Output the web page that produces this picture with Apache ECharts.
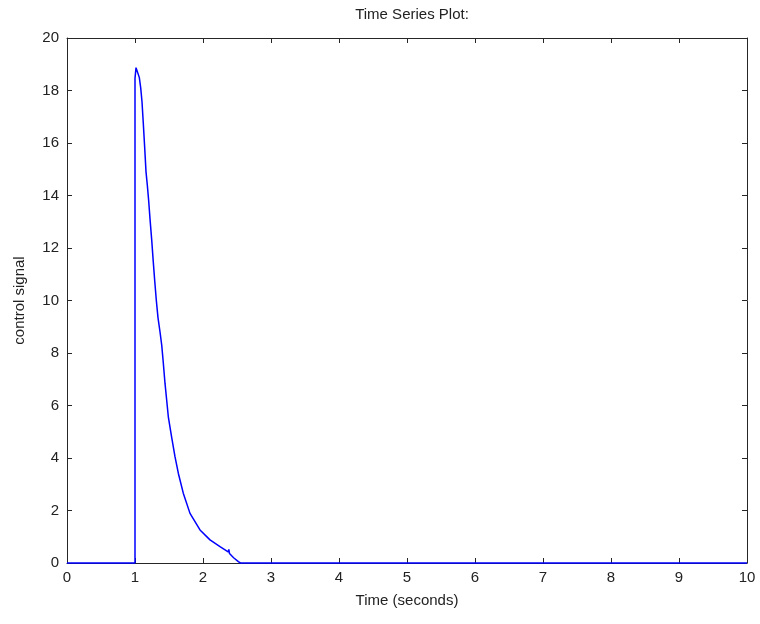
<!DOCTYPE html>
<html><head><meta charset="utf-8">
<script src="https://cdn.jsdelivr.net/npm/echarts@6/dist/echarts.min.js"></script>
<style>html,body{margin:0;padding:0;background:#fff}#c{width:760px;height:624px}</style>
</head><body><div id="c"></div>
<script>
var titleText = 'Time Series Plot:';
var xLabel = 'Time (seconds)';
var yLabel = 'control signal';
var timeValues = [0, 1.0, 1.0, 1.015, 1.04, 1.063, 1.084, 1.103, 1.122, 1.143, 1.162, 1.181, 1.201, 1.221, 1.246, 1.268, 1.29, 1.313, 1.338, 1.368, 1.393, 1.412, 1.441, 1.466, 1.49, 1.54, 1.588, 1.637, 1.71, 1.809, 1.956, 2.103, 2.25, 2.37, 2.38, 2.39, 2.45, 2.52, 2.55, 10];
var signalValues = [0, 0, 18.46, 18.87, 18.8, 18.5, 18.1, 17.57, 16.75, 15.8, 14.9, 14.4, 13.8, 13.1, 12.3, 11.5, 10.75, 10.02, 9.35, 8.8, 8.3, 7.75, 6.85, 6.2, 5.57, 4.78, 4.05, 3.42, 2.66, 1.89, 1.26, 0.88, 0.62, 0.42, 0.52, 0.36, 0.2, 0.05, 0, 0];
var xTicks = [0,1,2,3,4,5,6,7,8,9,10];
var yTicks = [0,2,4,6,8,10,12,14,16,18,20];

var pts = timeValues.map(function(t,i){return [t, signalValues[i]];});
var font = 'Liberation Sans, Arial, sans-serif';
var axColor = '#262626';
var chart = echarts.init(document.getElementById('c'));
function baseX(pos, show){
  return {type:'value', min:xTicks[0], max:xTicks[xTicks.length-1], interval:1, position:pos,
    axisLine:{show:true, onZero:false, lineStyle:{color:axColor, width:1}},
    axisTick:{show:true, inside:true, length:5, lineStyle:{color:axColor}},
    axisLabel:{show:show, color:'#222', fontFamily:font, fontSize:15, margin:7},
    splitLine:{show:false}};
}
function baseY(pos, show){
  return {type:'value', min:yTicks[0], max:yTicks[yTicks.length-1], interval:2, position:pos,
    axisLine:{show:true, onZero:false, lineStyle:{color:axColor, width:1}},
    axisTick:{show:true, inside:true, length:5, lineStyle:{color:axColor}},
    axisLabel:{show:show, color:'#222', fontFamily:font, fontSize:15, margin:8},
    splitLine:{show:false}};
}
var xa = baseX('bottom', true);
xa.name = xLabel; xa.nameLocation='middle'; xa.nameGap=30;
xa.nameTextStyle = {color:'#222', fontFamily:font, fontSize:15};
var ya = baseY('left', true);
ya.name = yLabel; ya.nameLocation='middle'; ya.nameGap=40;
ya.nameTextStyle = {color:'#222', fontFamily:font, fontSize:15};
chart.setOption({
  animation:false,
  backgroundColor:'#fff',
  title:{text:titleText, left:407, textAlign:'center', top:2,
    textStyle:{fontFamily:font, fontSize:15, fontWeight:'normal', color:'#222'}},
  grid:{left:67, right:13, top:38, bottom:61},
  xAxis:[xa, baseX('top', false)],
  yAxis:[ya, baseY('right', false)],
  series:[{type:'line', data:pts, xAxisIndex:0, yAxisIndex:0, showSymbol:false,
    lineStyle:{color:'#0000ff', width:1.5}, clip:false}]
});
</script></body></html>
